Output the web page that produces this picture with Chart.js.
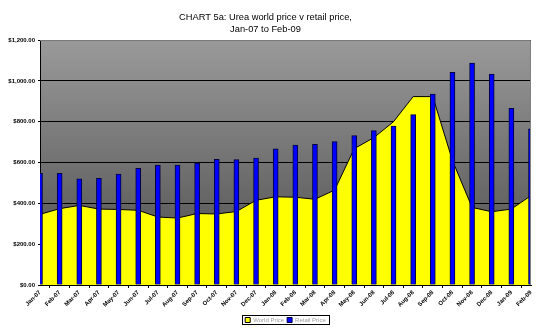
<!DOCTYPE html>
<html>
<head>
    <title>CHART 5a: Urea world price v retail price</title>
    <script src="https://cdn.jsdelivr.net/npm/chart.js"></script>
    <style>
        body { margin: 0; background: #fff; }
    </style>
</head>
<body>
    <canvas id="ureaChart" width="540" height="333"></canvas>
    <script>
        const months = ['Jan-07', 'Feb-07', 'Mar-07', 'Apr-07', 'May-07', 'Jun-07', 'Jul-07', 'Aug-07', 'Sep-07',
            'Oct-07', 'Nov-07', 'Dec-07', 'Jan-08', 'Feb-08', 'Mar-08', 'Apr-08', 'May-08', 'Jun-08', 'Jul-08',
            'Aug-08', 'Sep-08', 'Oct-08', 'Nov-08', 'Dec-08', 'Jan-09', 'Feb-09'];
        const worldPrice = [346, 374, 390, 372, 370, 366, 333, 328, 350, 348, 360, 415, 432, 430, 420, 465,
            668, 722, 800, 923, 923, 610, 380, 359, 372, 438];
        const retailPrice = [547, 547, 520, 523, 543, 572, 587, 587, 597, 616, 614, 622, 667, 686, 689, 703,
            732, 757, 778, 835, 935, 1042, 1087, 1033, 866, 765];
        const yTicks = [0, 200, 400, 600, 800, 1000, 1200];
        const titleLines = ['CHART 5a: Urea world price v retail price,', 'Jan-07 to Feb-09'];

        const money = v => '$' + v.toLocaleString('en-US', { minimumFractionDigits: 2, maximumFractionDigits: 2 });

        // grey gradient behind the plot, grey frame top/right, box round the legend
        const plotDecor = {
            id: 'plotDecor',
            beforeDraw(chart) {
                const a = chart.chartArea, c = chart.ctx;
                const g = c.createLinearGradient(0, a.top, 0, a.bottom);
                g.addColorStop(0, '#9a9a9a');
                g.addColorStop(1, '#4a4a4a');
                c.save();
                c.fillStyle = g;
                c.fillRect(a.left, a.top, a.right - a.left, a.bottom - a.top);
                c.restore();
            },
            afterLayout(chart) {
                // legend sits centred under the plot area, not the canvas
                const a = chart.chartArea, lg = chart.legend;
                const shift = (a.left + a.right) / 2 - (lg.left + lg.right) / 2;
                lg.left += shift;
                lg.right += shift;
            },
            afterDraw(chart) {
                const a = chart.chartArea, c = chart.ctx;
                c.save();
                c.strokeStyle = '#808080';
                c.lineWidth = 1;
                c.beginPath();
                c.moveTo(a.left, a.top + 0.5);
                c.lineTo(a.right - 0.5, a.top + 0.5);
                c.lineTo(a.right - 0.5, a.bottom);
                c.stroke();
                const boxes = chart.legend.legendHitBoxes;
                if (boxes && boxes.length) {
                    const l = Math.min(...boxes.map(b => b.left)) - 3;
                    const r = Math.max(...boxes.map(b => b.left + b.width)) + 3;
                    const t = Math.min(...boxes.map(b => b.top)) - 2;
                    const btm = Math.max(...boxes.map(b => b.top + b.height)) + 1;
                    c.strokeStyle = '#000';
                    c.strokeRect(Math.round(l) + 0.5, Math.round(t) + 0.5, Math.round(r - l), Math.round(btm - t));
                }
                c.restore();
            }
        };

        const ctx = document.getElementById('ureaChart').getContext('2d');
        new Chart(ctx, {
            type: 'bar',
            data: {
                labels: months,
                datasets: [
                    {
                        type: 'line',
                        label: 'World Price',
                        data: worldPrice,
                        fill: 'origin',
                        backgroundColor: '#ffff00',
                        borderColor: '#000000',
                        borderWidth: 1,
                        pointRadius: 0,
                        tension: 0,
                        order: 2
                    },
                    {
                        type: 'bar',
                        label: 'Retail Price',
                        data: retailPrice,
                        backgroundColor: '#0000ff',
                        borderColor: '#000040',
                        borderWidth: 1,
                        barThickness: 5,
                        order: 1
                    }
                ]
            },
            options: {
                responsive: false,
                animation: false,
                layout: { padding: { top: 0, right: 9, bottom: 0, left: 0 } },
                font: { family: "'Liberation Sans', Arial, sans-serif" },
                plugins: {
                    title: {
                        display: true,
                        text: titleLines,
                        color: '#000',
                        font: { size: 9.3, weight: 'normal', lineHeight: 1.25 },
                        padding: { top: 11.5, bottom: 5.3 }
                    },
                    legend: {
                        position: 'bottom',
                        labels: {
                            boxWidth: 5,
                            boxHeight: 5,
                            color: '#a0a0a0',
                            font: { size: 6 },
                            padding: 3,
                            sort: (a, b) => a.datasetIndex - b.datasetIndex
                        }
                    },
                    tooltip: { enabled: false }
                },
                scales: {
                    x: {
                        offset: false,
                        grid: { drawOnChartArea: false, color: '#000', tickLength: 3 },
                        border: { color: '#000' },
                        ticks: {
                            autoSkip: false,
                            minRotation: 45,
                            maxRotation: 45,
                            padding: 1,
                            color: '#000',
                            font: { size: 6, weight: 'bold' }
                        },
                        afterFit: s => { s.height = 29; }
                    },
                    y: {
                        min: 0,
                        max: 1200,
                        afterBuildTicks: s => { s.ticks = yTicks.map(v => ({ value: v })); },
                        grid: { color: '#000', tickLength: 2 },
                        border: { color: '#000' },
                        ticks: {
                            padding: 3,
                            color: '#000',
                            font: { size: 6, weight: 'bold' },
                            callback: v => money(v)
                        },
                        afterFit: s => { s.width = 40; }
                    }
                }
            },
            plugins: [plotDecor]
        });
    </script>
</body>
</html>
